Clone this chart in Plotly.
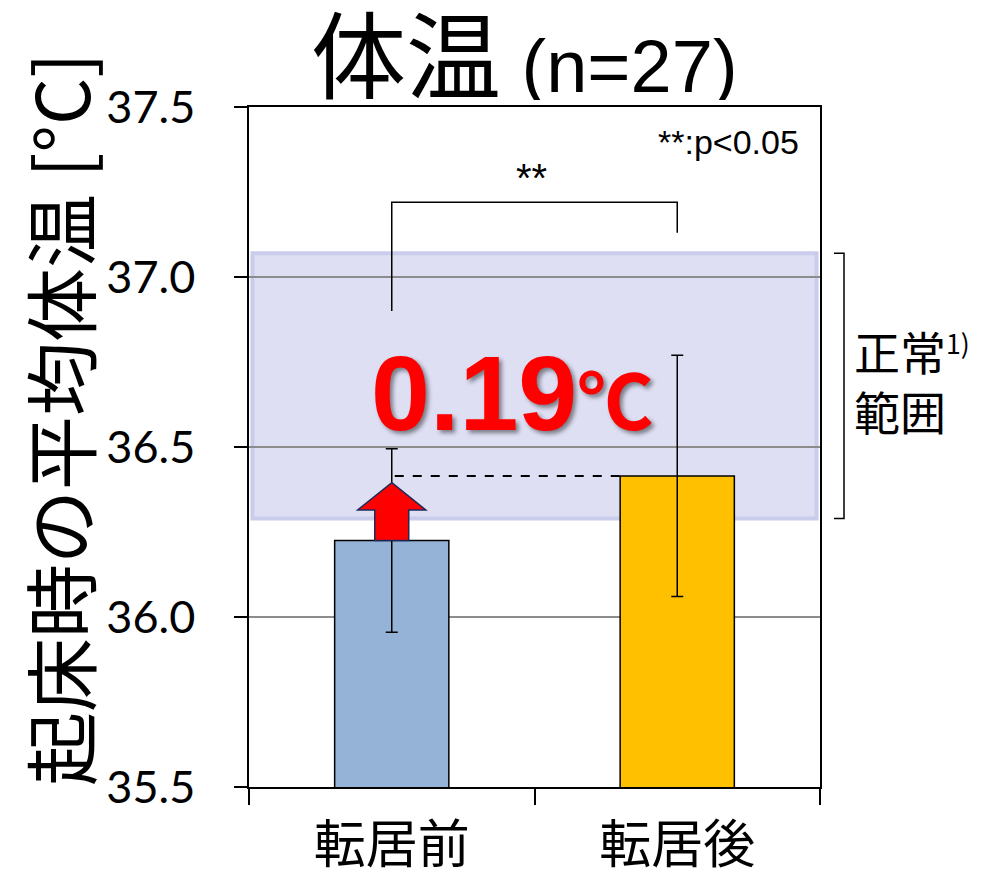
import plotly.graph_objects as go

# Mean waking body temperature before / after moving (n=27)
categories = ["転居前", "転居後"]
mean_temp = [36.225, 36.415]
sd_temp = [0.27, 0.355]
bar_colors = ["#95B3D7", "#FFC000"]
y_ticks = [35.5, 36.0, 36.5, 37.0, 37.5]
normal_range = [36.29, 37.07]

# significance bracket levels (data units)
bracket_top = 37.22
bracket_left_end = 36.90
bracket_right_end = 37.13

Y_RANGE = [35.5, 37.5]
CJK = "Noto Sans CJK JP"
ARIAL = "Liberation Sans"

W, H = 988, 883
L, R, T, B = 249, 168, 107, 96
PW, PH = W - L - R, H - T - B


def cx(i):
    """Paper x of the centre of category i (x range is [-0.5, 1.5])."""
    return (i + 0.5) / 2.0


def px_x(p):
    return (p - L) / PW


def px_y(p):
    return (H - B - p) / PH


fig = go.Figure()

fig.add_trace(go.Bar(
    x=categories,
    y=mean_temp,
    width=0.4,
    marker=dict(color=bar_colors, line=dict(color="black", width=1.5)),
    error_y=dict(type="data", array=sd_temp, visible=True,
                 color="black", thickness=1.5, width=6),
    showlegend=False,
    hoverinfo="skip",
))

shapes = []

# normal range band
shapes.append(dict(
    type="rect", xref="paper", yref="y",
    x0=0.006, x1=0.994, y0=normal_range[0], y1=normal_range[1],
    fillcolor="#DEDFF3", line=dict(color="#CACCEB", width=4),
    layer="below",
))

# bracket to the right of the plot marking the normal range
bx0, bx1 = 1.0 + 14 / PW, 1.0 + 24 / PW
shapes.append(dict(
    type="path", xref="paper", yref="y",
    path=f"M {bx0} {normal_range[1]} L {bx1} {normal_range[1]} "
         f"L {bx1} {normal_range[0]} L {bx0} {normal_range[0]}",
    line=dict(color="black", width=1.5),
))

# significance bracket
shapes.append(dict(
    type="path", xref="paper", yref="y",
    path=f"M {cx(0)} {bracket_left_end} L {cx(0)} {bracket_top} "
         f"L {cx(1)} {bracket_top} L {cx(1)} {bracket_right_end}",
    line=dict(color="black", width=1.5),
))

# dashed reference line at the after-move level
shapes.append(dict(
    type="line", xref="paper", yref="y",
    x0=cx(0) + 3 / PW, x1=cx(1) - 0.1,
    y0=mean_temp[1], y1=mean_temp[1],
    line=dict(color="black", width=2, dash="dash"),
))

# red up-arrow from the before bar toward the after level
tip = mean_temp[1] - 0.02
head_base = tip - 0.08
hw, sw = 34 / PW, 17 / PW
c = cx(0)
arrow = (f"M {c} {tip} L {c + hw} {head_base} L {c + sw} {head_base} "
         f"L {c + sw} {mean_temp[0]} L {c - sw} {mean_temp[0]} "
         f"L {c - sw} {head_base} L {c - hw} {head_base} Z")
shapes.append(dict(
    type="path", xref="paper", yref="y", path=arrow,
    fillcolor="#FF0000", line=dict(color="#1F2A5C", width=1.5),
))

diff = mean_temp[1] - mean_temp[0]

annotations = [
    # title
    dict(text='<span style="font-family:Noto Sans CJK JP">体温</span>'
              '<span style="font-size:74px"> (n=27)</span>',
         xref="paper", yref="paper", x=px_x(524), y=px_y(50),
         xanchor="center", yanchor="middle", height=100, valign="middle",
         showarrow=False,
         font=dict(family=ARIAL, size=95, color="black")),
    # y axis title
    dict(text="起床時の平均体温 [°C]", textangle=-90,
         xref="paper", yref="paper", x=px_x(57), y=px_y(420),
         xanchor="center", yanchor="middle", showarrow=False,
         font=dict(family=CJK, size=74, color="black")),
    # difference label
    dict(text=f'{diff:.2f}<span style="font-size:76px">℃</span>',
         xref="paper", yref="y", x=px_x(512), y=36.66,
         xanchor="center", yanchor="middle", showarrow=False,
         font=dict(family=f"{ARIAL}, {CJK}", size=106, color="#FF0000",
                   weight="bold", shadow="3px 3px 4px rgba(0,0,0,0.45)")),
    # significance marks
    dict(text="**", xref="paper", yref="y", x=0.495, y=bracket_top + 0.07,
         xanchor="center", yanchor="middle", showarrow=False,
         font=dict(family=ARIAL, size=40, color="black")),
    dict(text="**:p<0.05", xref="paper", yref="paper", x=px_x(801),
         y=px_y(142), xanchor="right", yanchor="middle",
         showarrow=False, font=dict(family=ARIAL, size=34, color="black")),
    # normal range label
    dict(text='正常<span style="font-size:38px"><sup>1)</sup></span><br>範囲',
         xref="paper", yref="paper", x=px_x(852), y=px_y(380),
         xanchor="left", yanchor="middle", align="left", showarrow=False,
         font=dict(family=CJK, size=46, color="black")),
]

fig.update_layout(
    width=W, height=H,
    margin=dict(l=L, r=R, t=T, b=B, autoexpand=False),
    paper_bgcolor="white", plot_bgcolor="white",
    shapes=shapes, annotations=annotations,
    xaxis=dict(
        type="category", range=[-0.5, 1.5], automargin=False,
        showline=True, linecolor="black", linewidth=1.5, mirror=True,
        ticks="outside", tickson="boundaries", ticklen=16,
        tickcolor="black", tickwidth=1.5,
        tickfont=dict(family=CJK, size=52, color="black"),
        ticklabelstandoff=12,
        showgrid=False, fixedrange=True,
    ),
    yaxis=dict(
        range=Y_RANGE, tickvals=y_ticks, automargin=False,
        ticktext=[f"{v:.1f}" for v in y_ticks],
        showline=True, linecolor="black", linewidth=1.5, mirror=True,
        ticks="outside", ticklen=13, tickcolor="black", tickwidth=1.5,
        tickfont=dict(family="Lato", size=45, color="black"),
        ticklabelstandoff=30,
        showgrid=True, gridcolor="#8C8C8C", gridwidth=1.5,
        zeroline=False, fixedrange=True,
    ),
)

fig.write_html("out.html")
